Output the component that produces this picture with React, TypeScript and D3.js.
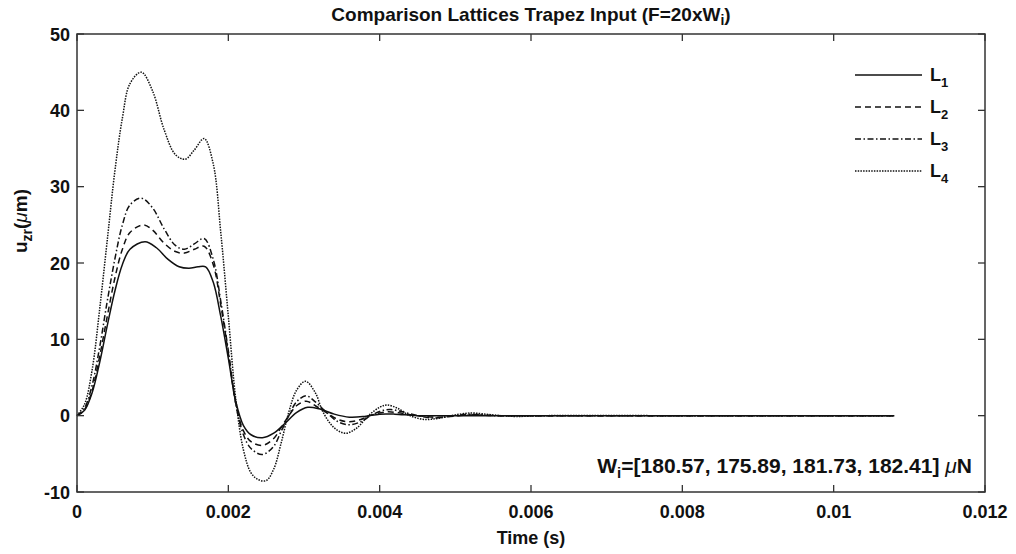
import React from "react";
import * as d3 from "d3";

// time in ms, displacement in µm
const tL1 = [0, 0.1, 0.2, 0.3, 0.4, 0.5, 0.6, 0.7, 0.9, 1.05, 1.2, 1.35, 1.48, 1.6, 1.7, 1.8, 1.9, 2.0, 2.1, 2.2, 2.3, 2.45, 2.6, 2.75, 2.9, 3.05, 3.2, 3.4, 3.6, 3.8, 4.0, 4.2, 4.5, 5.0, 6.0, 8.0, 10.8];
const vL1 = [0, 0.7, 3, 7, 11.8, 16.3, 19.8, 21.8, 22.8, 22, 20.5, 19.5, 19.3, 19.5, 19.5, 17.5, 13, 7.5, 1.8, -1.3, -2.5, -2.9, -2.3, -1, 0.4, 1.1, 0.9, 0.2, -0.2, -0.1, 0.2, 0.2, 0, 0, 0, 0, 0];

const tL2 = [0, 0.1, 0.2, 0.3, 0.4, 0.5, 0.6, 0.7, 0.88, 1.0, 1.15, 1.3, 1.42, 1.55, 1.68, 1.8, 1.9, 2.0, 2.1, 2.2, 2.3, 2.45, 2.6, 2.7, 2.8, 2.9, 3.03, 3.15, 3.28, 3.45, 3.6, 3.75, 3.9, 4.1, 4.3, 4.5, 4.8, 5.2, 5.6, 6.5, 8.0, 10.8];
const vL2 = [0, 0.8, 3.3, 7.8, 13, 18, 21.8, 24, 25, 24.3, 22.6, 21.5, 21.3, 21.8, 22.2, 19.8, 14.5, 8.2, 1.5, -2, -3.4, -3.9, -3, -1.5, 0, 1.3, 1.9, 1.3, 0.5, -0.5, -0.8, -0.5, 0.1, 0.5, 0.3, 0, -0.2, 0.1, 0, 0, 0, 0];

const tL3 = [0, 0.1, 0.2, 0.3, 0.4, 0.5, 0.6, 0.7, 0.85, 1.0, 1.15, 1.3, 1.42, 1.55, 1.68, 1.8, 1.9, 2.0, 2.1, 2.2, 2.3, 2.45, 2.6, 2.7, 2.8, 2.9, 3.03, 3.15, 3.28, 3.45, 3.6, 3.75, 3.9, 4.05, 4.15, 4.3, 4.5, 4.7, 5.0, 5.2, 5.5, 6.0, 8.0, 10.8];
const vL3 = [0, 1, 4, 9, 15, 20.5, 25, 27.6, 28.5, 27.2, 24.5, 22.3, 21.8, 22.5, 23.2, 20.5, 15, 8.5, 1.5, -2.5, -4.3, -5.1, -4, -2, 0, 1.8, 2.6, 1.8, 0.6, -0.8, -1.2, -0.8, 0.1, 0.7, 0.8, 0.5, 0, -0.3, 0, 0.2, 0, 0, 0, 0];

const tL4 = [0, 0.1, 0.2, 0.3, 0.4, 0.5, 0.6, 0.7, 0.85, 1.0, 1.15, 1.3, 1.43, 1.55, 1.68, 1.8, 1.9, 2.0, 2.1, 2.2, 2.3, 2.4, 2.5, 2.6, 2.7, 2.8, 2.9, 3.02, 3.15, 3.25, 3.4, 3.55, 3.7, 3.85, 4.0, 4.1, 4.25, 4.4, 4.6, 4.8, 5.0, 5.2, 5.4, 5.6, 5.8, 6.2, 8.0, 10.8];
const vL4 = [0, 1.5, 6, 14, 23, 32, 39, 43.5, 45, 42.5, 37.5, 34.2, 33.6, 34.8, 36.3, 33, 24, 13, 2, -4.5, -7.5, -8.4, -8.5, -7, -3.5, 0.5, 3.3, 4.5, 3, 0.5, -1.6, -2.3, -1.6, 0, 1.1, 1.4, 0.9, 0, -0.5, -0.3, 0.1, 0.35, 0.2, 0, -0.1, 0, 0, 0];

const xTicks = [0, 0.002, 0.004, 0.006, 0.008, 0.01, 0.012];
const xTickLabels = ["0", "0.002", "0.004", "0.006", "0.008", "0.01", "0.012"];
const yTicks = [-10, 0, 10, 20, 30, 40, 50];
const legendNames = ["1", "2", "3", "4"];
const weights = ["180.57", "175.89", "181.73", "182.41"];

const dashes = ["none", "6,4", "6,2.5,1.5,2.5", "1.5,1.2"];

const W = 1016, H = 554;
const L = 77, R = 985, T = 34, B = 492;
const FONT = "'Liberation Sans', Arial, sans-serif";

export default function App() {
  const x = d3.scaleLinear().domain([0, 0.012]).range([L, R]);
  const y = d3.scaleLinear().domain([-10, 50]).range([B, T]);
  const line = d3
    .line<[number, number]>()
    .x((d) => x(d[0] / 1000))
    .y((d) => y(d[1]))
    .curve(d3.curveCatmullRom.alpha(0.5));
  const series = [
    [tL1, vL1],
    [tL2, vL2],
    [tL3, vL3],
    [tL4, vL4],
  ].map(([t, v]) => t.map((ti, i) => [ti, v[i]] as [number, number]));

  const tickLen = 7;
  const axisColor = "#333";
  return (
    <svg width={W} height={H} style={{ position: "absolute", left: 0, top: 0, background: "#fff" }} fontFamily={FONT}>
      <rect x={0} y={0} width={W} height={H} fill="#fff" />
      {/* curves */}
      {series.map((s, i) => (
        <path key={i} d={line(s) || ""} fill="none" stroke="#111" strokeWidth={1.5} strokeDasharray={dashes[i]} />
      ))}
      {/* box */}
      <rect x={L} y={T} width={R - L} height={B - T} fill="none" stroke={axisColor} strokeWidth={1.5} />
      {xTicks.map((t, i) => (
        <g key={"x" + i}>
          <line x1={x(t)} x2={x(t)} y1={B} y2={B - tickLen} stroke={axisColor} strokeWidth={1.3} />
          <line x1={x(t)} x2={x(t)} y1={T} y2={T + tickLen} stroke={axisColor} strokeWidth={1.3} />
          <text x={x(t)} y={518} textAnchor="middle" fontSize={18} fontWeight="bold" fill="#111">
            {xTickLabels[i]}
          </text>
        </g>
      ))}
      {yTicks.map((v, i) => (
        <g key={"y" + i}>
          <line x1={L} x2={L + tickLen} y1={y(v)} y2={y(v)} stroke={axisColor} strokeWidth={1.3} />
          <line x1={R} x2={R - tickLen} y1={y(v)} y2={y(v)} stroke={axisColor} strokeWidth={1.3} />
          <text x={70} y={y(v) + 6.5} textAnchor="end" fontSize={18} fontWeight="bold" fill="#111">
            {v}
          </text>
        </g>
      ))}
      {/* title */}
      <text x={(L + R) / 2} y={21} textAnchor="middle" fontSize={19} fontWeight="bold" fill="#111">
        Comparison Lattices Trapez Input (F=20xW
        <tspan fontSize={14} dy={4}>i</tspan>
        <tspan dy={-4}>)</tspan>
      </text>
      {/* x label */}
      <text x={(L + R) / 2} y={544} textAnchor="middle" fontSize={18} fontWeight="bold" fill="#111">
        Time (s)
      </text>
      {/* y label */}
      <text transform={`translate(27,221) rotate(-90)`} textAnchor="middle" fontSize={19} fontWeight="bold" fill="#111">
        u<tspan fontSize={14} dy={5}>zr</tspan>
        <tspan dy={-5}>(</tspan>
        <tspan fontStyle="italic" fontWeight="normal">μ</tspan>
        <tspan>m)</tspan>
      </text>
      {/* legend */}
      {legendNames.map((n, i) => {
        const ly = 75 + i * 32;
        return (
          <g key={"lg" + i}>
            <line x1={855} x2={922} y1={ly} y2={ly} stroke="#111" strokeWidth={1.4} strokeDasharray={dashes[i]} />
            <text x={930} y={ly + 6} fontSize={18} fontWeight="bold" fill="#111">
              L<tspan fontSize={13} dy={6}>{n}</tspan>
            </text>
          </g>
        );
      })}
      {/* annotation */}
      <text x={972} y={473} textAnchor="end" fontSize={21} fontWeight="bold" fill="#111">
        W<tspan fontSize={15} dy={5}>i</tspan>
        <tspan dy={-5}>=[{weights.join(", ")}] </tspan>
        <tspan fontStyle="italic" fontWeight="normal">μ</tspan>
        <tspan>N</tspan>
      </text>
    </svg>
  );
}
